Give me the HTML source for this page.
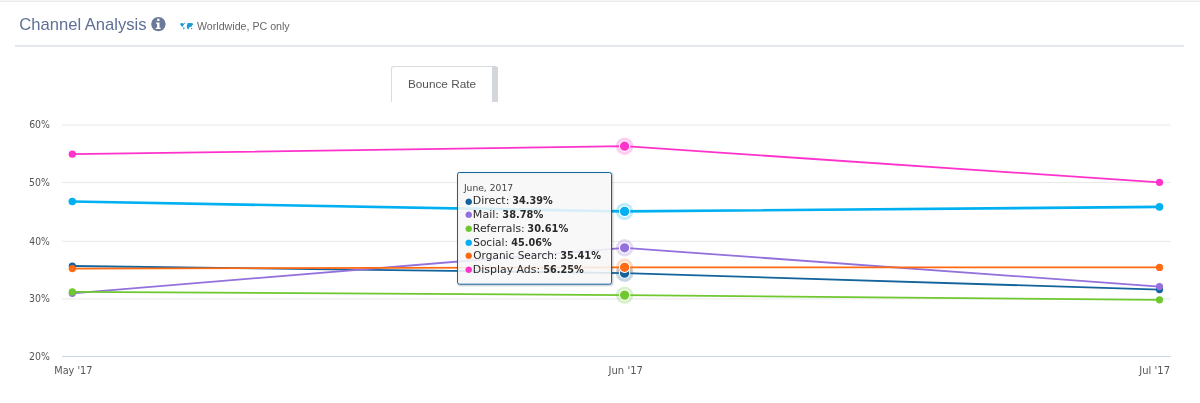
<!DOCTYPE html>
<html lang="en">
<head>
<meta charset="utf-8">
<title>Channel Analysis</title>
<style>
html,body{margin:0;padding:0;background:#fff;}
body{width:1200px;height:403px;position:relative;overflow:hidden;font-family:"Liberation Sans",Arial,sans-serif;}
.topbar{position:absolute;left:0;top:0;width:1200px;height:2px;background:linear-gradient(#f6f6f6 0,#f6f6f6 50%,#e9ebef 50%,#e9ebef 100%);}
.title{position:absolute;left:19.3px;top:15.1px;font-size:16.6px;line-height:20px;color:#5f7094;white-space:nowrap;}
.sub{position:absolute;left:197px;top:19px;font-size:10.65px;line-height:14px;color:#666;white-space:nowrap;}
.hr{position:absolute;left:15px;top:45px;width:1169px;height:2px;background:#e4e7ec;}
.tab{position:absolute;left:391px;top:66px;width:101px;height:36px;box-sizing:border-box;border:1px solid #d9dcdf;border-bottom:none;border-right:none;border-radius:3px 0 0 0;font-size:11.8px;line-height:34.6px;color:#555;text-align:center;}
.tabr{position:absolute;left:492px;top:66px;width:6px;height:36px;background:#d3d7dc;border-radius:0 3px 0 0;}
svg{position:absolute;left:0;top:0;}
</style>
</head>
<body>
<div class="topbar"></div>
<div class="title">Channel Analysis</div>
<div class="sub">Worldwide, PC only</div>
<div class="hr"></div>
<div class="tab">Bounce Rate</div>
<div class="tabr"></div>
<svg width="1200" height="403" viewBox="0 0 1200 403">
  <!-- info icon -->
  <circle cx="158.4" cy="24.1" r="7.2" fill="#6c7a99"/>
  <path fill="#fff" d="M157.2 18.8h2.3v2.1h-2.3z M156 22.4h3.5v5.4h1.2v1.3h-4.9v-1.3h1.3v-4h-1.1z"/>
  <!-- map icon -->
  <g fill="#1f98d6">
    <path d="M180 23.7l1.7-.6 1.9.4.6.9-1 1.1-.6 1.4-1.3-1-1-1.4z"/>
    <path d="M184 22.7l1.4.1-.3.9-1 .1z"/>
    <path d="M183.3 27.3l1.1.3.1 1.1-.8 1.1-.5-1.3z"/>
    <path d="M187.1 23.6l1.5-.7 2.3.2 2.1.5.2 1-1.2.9-.5 1.6-1.3-.4-.9.6-.5 1.6-.9.3-.9-1.5-.3-1.6.6-1.4z"/>
    <path d="M190.9 28l1.3-.1.2 1.2-1.4.2z"/>
  </g>
  <!-- grid -->
  <g stroke="#e8e8e8" stroke-width="1" fill="none">
    <path d="M62 125H1170.5"/>
    <path d="M62 182.6H1170.5"/>
    <path d="M62 241.3H1170.5"/>
    <path d="M62 298.95H1170.5"/>
  </g>
  <path d="M62 356.5H1170.5" stroke="#c9d4ea" stroke-width="1" fill="none"/>

  <text transform="translate(29.15 128.20) scale(0.9633 1)" font-family="'DejaVu Sans','Liberation Sans',sans-serif" font-size="9.70" font-weight="normal" fill="#555">60%</text>
  <text transform="translate(29.07 186.00) scale(0.9668 1)" font-family="'DejaVu Sans','Liberation Sans',sans-serif" font-size="9.70" font-weight="normal" fill="#555">50%</text>
  <text transform="translate(29.34 244.70) scale(0.9542 1)" font-family="'DejaVu Sans','Liberation Sans',sans-serif" font-size="9.70" font-weight="normal" fill="#555">40%</text>
  <text transform="translate(29.10 302.30) scale(0.9656 1)" font-family="'DejaVu Sans','Liberation Sans',sans-serif" font-size="9.70" font-weight="normal" fill="#555">30%</text>
  <text transform="translate(29.12 359.90) scale(0.9645 1)" font-family="'DejaVu Sans','Liberation Sans',sans-serif" font-size="9.70" font-weight="normal" fill="#555">20%</text>
  <text transform="translate(54.25 373.70) scale(1.0034 1)" font-family="'DejaVu Sans','Liberation Sans',sans-serif" font-size="9.70" font-weight="normal" fill="#555">May '17</text>
  <text transform="translate(608.53 373.70) scale(1.0355 1)" font-family="'DejaVu Sans','Liberation Sans',sans-serif" font-size="9.70" font-weight="normal" fill="#555">Jun '17</text>
  <text transform="translate(1139.33 373.70) scale(1.0318 1)" font-family="'DejaVu Sans','Liberation Sans',sans-serif" font-size="9.70" font-weight="normal" fill="#555">Jul '17</text>
  <g fill="none" stroke-linejoin="round" stroke-linecap="round">
    <path d="M72.3 266.0L624.6 273.2L1159.5 289.6" stroke="#13639d" stroke-width="1.8"/>
    <path d="M72.3 293.3L624.6 247.8L1159.5 286.6" stroke="#9370db" stroke-width="1.8"/>
    <path d="M72.3 291.9L624.6 295.1L1159.5 299.8" stroke="#6fc82f" stroke-width="1.8"/>
    <path d="M72.3 201.5L624.6 211.4L1159.5 206.9" stroke="#00b0f0" stroke-width="2.7"/>
    <path d="M72.3 268.6L624.6 267.3L1159.5 267.4" stroke="#ff6a13" stroke-width="1.8"/>
    <path d="M72.3 154.2L624.6 146.2L1159.5 182.4" stroke="#ff33cc" stroke-width="1.8"/>
  </g>
  <g fill="#13639d"><circle cx="72.3" cy="266.0" r="3.6"/><circle cx="1159.5" cy="289.6" r="3.6"/></g>
  <g fill="#9370db"><circle cx="72.3" cy="293.3" r="3.6"/><circle cx="1159.5" cy="286.6" r="3.6"/></g>
  <g fill="#6fc82f"><circle cx="72.3" cy="291.9" r="3.6"/><circle cx="1159.5" cy="299.8" r="3.6"/></g>
  <g fill="#00b0f0"><circle cx="72.3" cy="201.5" r="3.8"/><circle cx="1159.5" cy="206.9" r="3.8"/></g>
  <g fill="#ff6a13"><circle cx="72.3" cy="268.6" r="3.6"/><circle cx="1159.5" cy="267.4" r="3.6"/></g>
  <g fill="#ff33cc"><circle cx="72.3" cy="154.2" r="3.6"/><circle cx="1159.5" cy="182.4" r="3.6"/></g>
  <circle cx="624.6" cy="273.2" r="8.7" fill="#13639d" fill-opacity="0.25"/>
  <circle cx="624.6" cy="247.8" r="8.7" fill="#9370db" fill-opacity="0.25"/>
  <circle cx="624.6" cy="295.1" r="8.7" fill="#6fc82f" fill-opacity="0.25"/>
  <circle cx="624.6" cy="211.4" r="8.7" fill="#00b0f0" fill-opacity="0.25"/>
  <circle cx="624.6" cy="267.3" r="8.7" fill="#ff6a13" fill-opacity="0.25"/>
  <circle cx="624.6" cy="146.2" r="8.7" fill="#ff33cc" fill-opacity="0.25"/>
  <circle cx="624.6" cy="273.2" r="5.2" fill="#13639d" stroke="#fff" stroke-width="1.1"/>
  <circle cx="624.6" cy="247.8" r="5.2" fill="#9370db" stroke="#fff" stroke-width="1.1"/>
  <circle cx="624.6" cy="295.1" r="5.2" fill="#6fc82f" stroke="#fff" stroke-width="1.1"/>
  <circle cx="624.6" cy="211.4" r="5.2" fill="#00b0f0" stroke="#fff" stroke-width="1.1"/>
  <circle cx="624.6" cy="267.3" r="5.2" fill="#ff6a13" stroke="#fff" stroke-width="1.1"/>
  <circle cx="624.6" cy="146.2" r="5.2" fill="#ff33cc" stroke="#fff" stroke-width="1.1"/>
  <g>
    <rect x="458.3" y="173.3" width="154" height="111.7" rx="2" fill="none" stroke="#000" stroke-opacity="0.04" stroke-width="4"/>
    <rect x="458.3" y="173.3" width="154" height="111.7" rx="2" fill="none" stroke="#000" stroke-opacity="0.07" stroke-width="2.4"/>
    <rect x="458.3" y="173.3" width="154" height="111.7" rx="2" fill="none" stroke="#000" stroke-opacity="0.1" stroke-width="1"/>
    <rect x="457.5" y="172.5" width="154" height="111.7" rx="2" fill="#f7f7f7" fill-opacity="0.88" stroke="#1266a0" stroke-width="1"/>
    <text transform="translate(463.88 190.80) scale(0.9982 1)" font-family="'DejaVu Sans','Liberation Sans',sans-serif" font-size="9.20" font-weight="normal" fill="#444">June, 2017</text>
    <text x="464.93" y="203.61" font-family="'DejaVu Sans',sans-serif" font-size="8.52" fill="#13639d">●</text>
    <text transform="translate(472.83 204.40) scale(1.0065 1)" font-family="'DejaVu Sans','Liberation Sans',sans-serif" font-size="10.90" font-weight="normal" fill="#2a2a2a">Direct:</text>
    <text transform="translate(512.36 204.40) scale(0.9858 1)" font-family="'DejaVu Sans Condensed','Liberation Sans',sans-serif" font-size="10.90" font-weight="bold" fill="#2a2a2a">34.39%</text>
    <text x="464.93" y="217.31" font-family="'DejaVu Sans',sans-serif" font-size="8.52" fill="#9370db">●</text>
    <text transform="translate(472.82 218.10) scale(1.0175 1)" font-family="'DejaVu Sans','Liberation Sans',sans-serif" font-size="10.90" font-weight="normal" fill="#2a2a2a">Mail:</text>
    <text transform="translate(502.34 218.10) scale(1.0033 1)" font-family="'DejaVu Sans Condensed','Liberation Sans',sans-serif" font-size="10.90" font-weight="bold" fill="#2a2a2a">38.78%</text>
    <text x="464.93" y="231.01" font-family="'DejaVu Sans',sans-serif" font-size="8.52" fill="#6fc82f">●</text>
    <text transform="translate(472.84 231.80) scale(0.9952 1)" font-family="'DejaVu Sans','Liberation Sans',sans-serif" font-size="10.90" font-weight="normal" fill="#2a2a2a">Referrals:</text>
    <text transform="translate(527.34 231.80) scale(1.0033 1)" font-family="'DejaVu Sans Condensed','Liberation Sans',sans-serif" font-size="10.90" font-weight="bold" fill="#2a2a2a">30.61%</text>
    <text x="464.93" y="244.71" font-family="'DejaVu Sans',sans-serif" font-size="8.52" fill="#00b0f0">●</text>
    <text transform="translate(473.21 245.50) scale(0.9704 1)" font-family="'DejaVu Sans','Liberation Sans',sans-serif" font-size="10.90" font-weight="normal" fill="#2a2a2a">Social:</text>
    <text transform="translate(511.27 245.50) scale(0.9879 1)" font-family="'DejaVu Sans Condensed','Liberation Sans',sans-serif" font-size="10.90" font-weight="bold" fill="#2a2a2a">45.06%</text>
    <text x="464.93" y="258.41" font-family="'DejaVu Sans',sans-serif" font-size="8.52" fill="#ff6a13">●</text>
    <text transform="translate(473.32 259.20) scale(0.9671 1)" font-family="'DejaVu Sans','Liberation Sans',sans-serif" font-size="10.90" font-weight="normal" fill="#2a2a2a">Organic Search:</text>
    <text transform="translate(560.35 259.20) scale(0.9933 1)" font-family="'DejaVu Sans Condensed','Liberation Sans',sans-serif" font-size="10.90" font-weight="bold" fill="#2a2a2a">35.41%</text>
    <text x="464.93" y="272.11" font-family="'DejaVu Sans',sans-serif" font-size="8.52" fill="#ff33cc">●</text>
    <text transform="translate(472.83 272.90) scale(1.0038 1)" font-family="'DejaVu Sans','Liberation Sans',sans-serif" font-size="10.90" font-weight="normal" fill="#2a2a2a">Display Ads:</text>
    <text transform="translate(543.25 272.90) scale(0.9885 1)" font-family="'DejaVu Sans Condensed','Liberation Sans',sans-serif" font-size="10.90" font-weight="bold" fill="#2a2a2a">56.25%</text>
  </g>
</svg>
</body>
</html>
